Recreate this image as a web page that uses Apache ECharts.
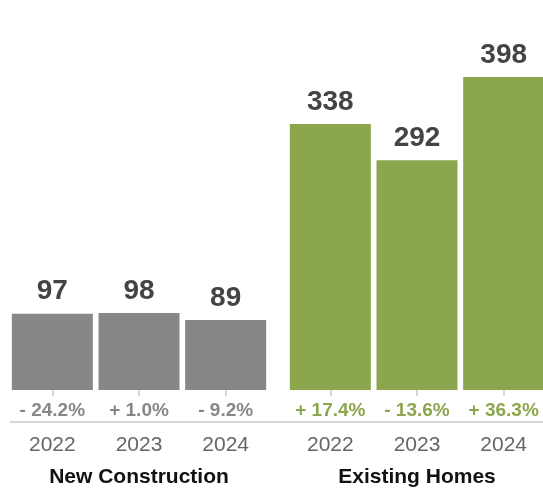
<!DOCTYPE html>
<html>
<head>
<meta charset="utf-8">
<script src="https://cdn.jsdelivr.net/npm/echarts@6/dist/echarts.min.js"></script>
<style>
  html, body { margin: 0; padding: 0; background: #fff; }
  #chart { width: 543px; height: 488px; }
</style>
</head>
<body>
<div id="chart"></div>
<script>
var years = ["2022", "2023", "2024"];
var groups = ["New Construction", "Existing Homes"];
var newConstruction = [97, 98, 89];
var existingHomes = [338, 292, 398];
var newChange = ["- 24.2%", "+ 1.0%", "- 9.2%"];
var existingChange = ["+ 17.4%", "- 13.6%", "+ 36.3%"];

var grey = "#878787";
var green = "#8ba64c";
var font = "'Liberation Sans', Arial, sans-serif";

var chartDom = document.getElementById("chart");
var myChart = echarts.init(chartDom);

function changeAxis(idx, data, color) {
  return {
    type: "category",
    gridIndex: idx,
    position: "bottom",
    data: data,
    axisLine: { show: false },
    axisTick: { show: false },
    axisLabel: {
      interval: 0,
      hideOverlap: false,
      margin: 11,
      color: color,
      fontSize: 19,
      fontWeight: "bold",
      fontFamily: font
    }
  };
}

function yearAxis(idx, name) {
  return {
    type: "category",
    gridIndex: idx,
    position: "bottom",
    offset: 32,
    data: years,
    name: name,
    nameLocation: "middle",
    nameGap: 45,
    nameTextStyle: {
      color: "#111",
      fontSize: 21,
      fontWeight: "bold",
      fontFamily: font
    },
    axisLine: { show: false },
    axisTick: {
      show: true,
      alignWithLabel: true,
      length: 6,
      lineStyle: { color: "#d6d6d6", width: 2 }
    },
    axisLabel: {
      interval: 0,
      margin: 13,
      color: "#666",
      fontSize: 21,
      fontFamily: font
    }
  };
}

function barSeries(idx, data, color) {
  return {
    type: "bar",
    xAxisIndex: idx * 2,
    yAxisIndex: idx,
    data: data,
    barWidth: 81,
    itemStyle: { color: color },
    label: {
      show: true,
      position: "top",
      distance: 8,
      color: "#444",
      fontSize: 28,
      fontWeight: "bold",
      fontFamily: font
    }
  };
}

var option = {
  animation: false,
  grid: [
    { left: 9, width: 260, top: 36, height: 354, outerBoundsMode: "none" },
    { left: 287, width: 260, top: 36, height: 354, outerBoundsMode: "none" }
  ],
  xAxis: [
    yearAxis(0, groups[0]),
    changeAxis(0, newChange, grey),
    yearAxis(1, groups[1]),
    changeAxis(1, existingChange, green)
  ],
  yAxis: [
    { type: "value", gridIndex: 0, min: 0, max: 450, show: false },
    { type: "value", gridIndex: 1, min: 0, max: 450, show: false }
  ],
  series: [
    barSeries(0, newConstruction, grey),
    barSeries(1, existingHomes, green)
  ],
  graphic: [
    {
      type: "line",
      shape: { x1: 10, y1: 422, x2: 543, y2: 422 },
      style: { stroke: "#d6d6d6", lineWidth: 2 }
    }
  ]
};

option && myChart.setOption(option);
</script>
</body>
</html>
